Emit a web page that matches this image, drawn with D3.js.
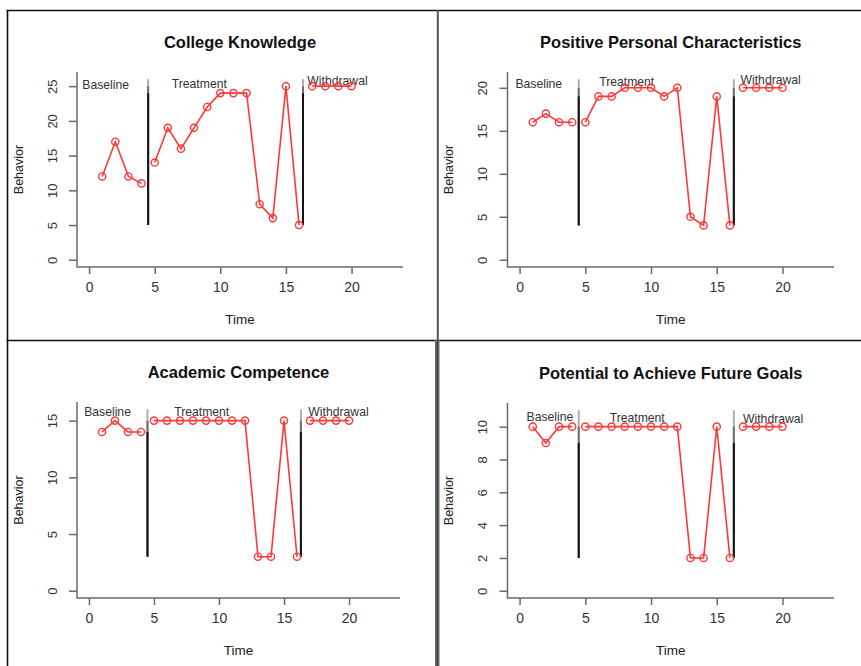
<!DOCTYPE html>
<html>
<head>
<meta charset="utf-8">
<script src="https://cdn.jsdelivr.net/npm/d3@7"></script>
<style>
  body { margin: 0; background: #fff; }
  text { font-family: "Liberation Sans", Arial, Helvetica, sans-serif; }
</style>
</head>
<body>
<div id="chart"></div>
<script>
// Single-case design charts, four outcomes

const time = [1, 2, 3, 4, 5, 6, 7, 8, 9, 10, 11, 12, 13, 14, 15, 16, 17, 18, 19, 20];
const phaseNames = ["Baseline", "Treatment", "Withdrawal"];
const phaseStart = [1, 5, 17];
const phaseEnd = [4, 16, 20];
const phaseLineX = [4.5, 16.3];
const xTicks = [0, 5, 10, 15, 20];

const titles = [
    "College Knowledge",
    "Positive Personal Characteristics",
    "Academic Competence",
    "Potential to Achieve Future Goals"
];

const collegeKnowledge = [12, 17, 12, 11, 14, 19, 16, 19, 22, 24, 24, 24, 8, 6, 25, 5, 25, 25, 25, 25];
const personalCharacteristics = [16, 17, 16, 16, 16, 19, 19, 20, 20, 20, 19, 20, 5, 4, 19, 4, 20, 20, 20, 20];
const academicCompetence = [14, 15, 14, 14, 15, 15, 15, 15, 15, 15, 15, 15, 3, 3, 15, 3, 15, 15, 15, 15];
const futureGoals = [10, 9, 10, 10, 10, 10, 10, 10, 10, 10, 10, 10, 2, 2, 10, 2, 10, 10, 10, 10];

const yTicks1 = [0, 5, 10, 15, 20, 25];
const yTicks2 = [0, 5, 10, 15, 20];
const yTicks3 = [0, 5, 10, 15];
const yTicks4 = [0, 2, 4, 6, 8, 10];

// where the phase names sit, in data units
const labelX1 = [1.27, 8.4, 18.93];
const labelY1 = [25.2, 25.4, 25.8];
const labelX2 = [1.46, 8.15, 19.1];
const labelY2 = [20.5, 20.7, 20.9];
const labelX3 = [1.43, 8.67, 19.19];
const labelY3 = [15.75, 15.8, 15.75];
const labelX4 = [2.31, 8.95, 19.29];
const labelY4 = [10.6, 10.56, 10.48];

const width = 861;
const height = 666;

const svg = d3.select("#chart")
    .append("svg")
    .attr("width", width)
    .attr("height", height);

svg.append("rect").attr("width", width).attr("height", height).attr("fill", "#fff");

// plot boxes for the 2x2 grid
const boxes = [
    {x0: 77, x1: 403, y0: 72, y1: 267},
    {x0: 507.5, x1: 834, y0: 72, y1: 267},
    {x0: 77, x1: 400, y0: 402, y1: 598},
    {x0: 507.5, x1: 834, y0: 403, y1: 598}
];

const panels = [
    {values: collegeKnowledge, yTicks: yTicks1, lx: labelX1, ly: labelY1},
    {values: personalCharacteristics, yTicks: yTicks2, lx: labelX2, ly: labelY2},
    {values: academicCompetence, yTicks: yTicks3, lx: labelX3, ly: labelY3},
    {values: futureGoals, yTicks: yTicks4, lx: labelX4, ly: labelY4}
];

const red = "#ff3838";
const axisColor = "#6a6a6a";

panels.forEach((p, i) => {
    const b = boxes[i];
    const yMax = d3.max(p.values) + 1;
    const yMin = d3.min(p.values);

    // R style: 4% padding on each side
    const x = d3.scaleLinear().domain([0 - 0.92, 23 + 0.92]).range([b.x0, b.x1]);
    const y = d3.scaleLinear().domain([0 - yMax * 0.04, yMax * 1.04]).range([b.y1, b.y0]);

    const g = svg.append("g");

    // L-shaped box
    g.append("path")
        .attr("d", `M${b.x0},${b.y0}V${b.y1}H${b.x1}`)
        .attr("fill", "none")
        .attr("stroke", axisColor)
        .attr("stroke-width", 1.5);

    const xAxis = d3.axisBottom(x).tickValues(xTicks).tickSize(7).tickPadding(8);
    const gx = g.append("g")
        .attr("transform", `translate(0,${b.y1})`)
        .call(xAxis);
    gx.select(".domain").remove();
    gx.selectAll(".tick line").attr("stroke", axisColor).attr("stroke-width", 1.5);
    gx.selectAll(".tick text")
        .attr("font-size", 14)
        .attr("fill", "#333")
        .attr("font-family", "Liberation Sans, Arial, sans-serif");

    const yAxis = d3.axisLeft(y).tickValues(p.yTicks).tickSize(8);
    const gy = g.append("g")
        .attr("transform", `translate(${b.x0},0)`)
        .call(yAxis);
    gy.select(".domain").remove();
    gy.selectAll(".tick line").attr("stroke", axisColor).attr("stroke-width", 1.5);
    gy.selectAll(".tick text")
        .attr("x", null).attr("dy", null)
        .attr("transform", "translate(-20.5,0) rotate(-90)")
        .attr("text-anchor", "middle")
        .attr("font-size", 13)
        .attr("fill", "#333")
        .attr("font-family", "Liberation Sans, Arial, sans-serif");

    // title
    g.append("text")
        .attr("x", (b.x0 + b.x1) / 2)
        .attr("y", b.y0 - 24.5)
        .attr("text-anchor", "middle")
        .attr("font-size", 16.5)
        .attr("font-weight", "bold")
        .attr("fill", "#111")
        .text(titles[i]);

    // axis titles
    g.append("text")
        .attr("x", (b.x0 + b.x1) / 2)
        .attr("y", b.y1 + 56.5)
        .attr("text-anchor", "middle")
        .attr("font-size", 13.5)
        .attr("fill", "#222")
        .text("Time");

    g.append("text")
        .attr("transform", `translate(${b.x0 - 54.5},${(b.y0 + b.y1) / 2}) rotate(-90)`)
        .attr("text-anchor", "middle")
        .attr("font-size", 12.5)
        .attr("fill", "#222")
        .text("Behavior");

    // phase change lines, fading toward the top
    phaseLineX.forEach(px => {
        [[yMax, "#b0b0b0"], [yMax - 1, "#707070"], [yMax - 2, "#151515"]].forEach(([top, c]) => {
            g.append("line")
                .attr("x1", x(px)).attr("x2", x(px))
                .attr("y1", y(top)).attr("y2", y(yMin))
                .attr("stroke", c)
                .attr("stroke-width", 2);
        });
    });

    // phase labels
    phaseNames.forEach((name, k) => {
        g.append("text")
            .attr("x", x(p.lx[k]))
            .attr("y", y(p.ly[k]))
            .attr("dy", "0.35em")
            .attr("text-anchor", "middle")
            .attr("font-size", 12.2)
            .attr("fill", "#333")
            .text(name);
    });

    // series, one path per phase
    const line = d3.line()
        .x(d => x(d[0]))
        .y(d => y(d[1]));

    phaseNames.forEach((name, k) => {
        const pts = time
            .map((t, j) => [t, p.values[j]])
            .filter(d => d[0] >= phaseStart[k] && d[0] <= phaseEnd[k]);
        g.append("path")
            .datum(pts)
            .attr("d", line)
            .attr("fill", "none")
            .attr("stroke", red)
            .attr("stroke-width", 1.6);
    });

    g.selectAll("circle.pt")
        .data(time.map((t, j) => [t, p.values[j]]))
        .enter()
        .append("circle")
        .attr("class", "pt")
        .attr("cx", d => x(d[0]))
        .attr("cy", d => y(d[1]))
        .attr("r", 3.6)
        .attr("fill", "none")
        .attr("stroke", red)
        .attr("stroke-width", 1.4);
});

// table borders around the four charts
svg.append("line").attr("x1", 6.5).attr("x2", width).attr("y1", 10.5).attr("y2", 10.5)
    .attr("stroke", "#111").attr("stroke-width", 1.6);
svg.append("line").attr("x1", 7.5).attr("x2", 7.5).attr("y1", 10).attr("y2", height)
    .attr("stroke", "#111").attr("stroke-width", 1.6);
svg.append("line").attr("x1", 6.5).attr("x2", width).attr("y1", 340.5).attr("y2", 340.5)
    .attr("stroke", "#111").attr("stroke-width", 1.6);
svg.append("line").attr("x1", 437.8).attr("x2", 437.8).attr("y1", 10).attr("y2", 340)
    .attr("stroke", "#555").attr("stroke-width", 2);
svg.append("rect").attr("x", 435).attr("y", 340).attr("width", 4.5).attr("height", height - 340)
    .attr("fill", "#6e6e6e");
svg.append("line").attr("x1", 437.2).attr("x2", 437.2).attr("y1", 340).attr("y2", height)
    .attr("stroke", "#2a2a2a").attr("stroke-width", 1);
</script>
</body>
</html>
